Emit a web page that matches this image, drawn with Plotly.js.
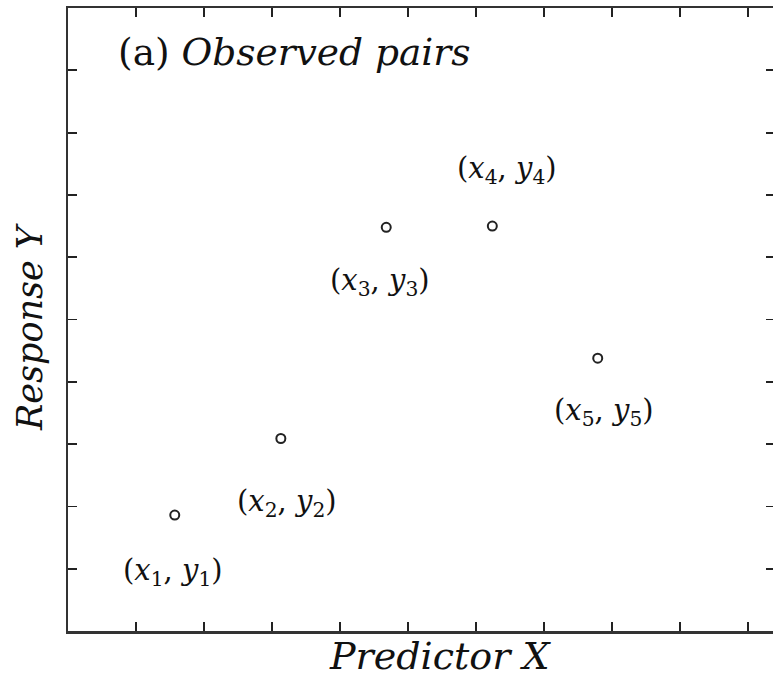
<!DOCTYPE html>
<html>
<head>
<meta charset="utf-8">
<script src="https://cdn.plot.ly/plotly-3.0.1.min.js"></script>
<style>html,body{margin:0;padding:0;overflow:hidden;background:#fff;}#chart{width:777px;height:678px;}</style>
</head>
<body>
<div id="chart"></div>
<script>
// Data
const pointX = [1.57, 3.13, 4.68, 6.24, 7.79];
const pointY = [1.86, 3.09, 6.48, 6.50, 4.38];
const pointLabels = [
  "(<i>x</i><sub>1</sub>, <i>y</i><sub>1</sub>)",
  "(<i>x</i><sub>2</sub>, <i>y</i><sub>2</sub>)",
  "(<i>x</i><sub>3</sub>, <i>y</i><sub>3</sub>)",
  "(<i>x</i><sub>4</sub>, <i>y</i><sub>4</sub>)",
  "(<i>x</i><sub>5</sub>, <i>y</i><sub>5</sub>)"
];
const xTicks = [1, 2, 3, 4, 5, 6, 7, 8, 9, 10];
const yTicks = [1, 2, 3, 4, 5, 6, 7, 8, 9];
const chartTitle = "(a) <i>Observed pairs</i>";
const xTitle = "<i>Predictor X</i>";
const yTitle = "<i>Response Y</i>";

// label offsets (pixels) relative to each point – styling only
const labelDx = [-2, 6, -6, 15, 6];
const labelDy = [57, 65, 55, -56, 54];

const serif = "DejaVu Serif";

const trace = {
  x: pointX, y: pointY, type: "scatter", mode: "markers",
  marker: {symbol: "circle-open", size: 9, color: "#222", line: {width: 2, color: "#222"}},
  hoverinfo: "x+y", showlegend: false
};

const annotations = pointX.map((x, i) => ({
  x: x, y: pointY[i], xref: "x", yref: "y", text: pointLabels[i],
  showarrow: false, xshift: labelDx[i], yshift: -labelDy[i],
  font: {family: serif, size: 29, color: "#111"}
}));
annotations.push({
  xref: "paper", yref: "paper", x: (440 - 68) / 707, y: -(656 - 631) / 623, xanchor: "center", yanchor: "middle",
  text: xTitle, showarrow: false, font: {family: serif, size: 38, color: "#111"}
});
annotations.push({
  xref: "paper", yref: "paper", x: (30 - 68) / 707, y: (631 - 327) / 623, xanchor: "center", yanchor: "middle",
  text: yTitle, textangle: -90, showarrow: false, font: {family: serif, size: 35, color: "#111"}
});

const axisCommon = {
  showgrid: false, zeroline: false, showline: true, linecolor: "#333", linewidth: 2.5,
  mirror: "ticks", ticks: "inside", ticklen: 9, tickwidth: 1.8, tickcolor: "#222",
  showticklabels: false, tickmode: "array", fixedrange: true
};

const layout = {
  width: 777, height: 678,
  margin: {l: 68, r: 2, t: 8, b: 47},
  paper_bgcolor: "#fff", plot_bgcolor: "#fff",
  font: {family: serif},
  title: {
    text: chartTitle, xref: "paper", x: (118 - 68) / 707, xanchor: "left",
    yref: "container", y: 1 - 52 / 678, yanchor: "middle",
    font: {family: serif, size: 37.5, color: "#111"}
  },
  xaxis: Object.assign({}, axisCommon, {range: [0, 707 / 68], tickvals: xTicks}),
  yaxis: Object.assign({}, axisCommon, {range: [0, 10], tickvals: yTicks}),
  annotations: annotations
};

Plotly.newPlot("chart", [trace], layout, {displayModeBar: false, staticPlot: true});
</script>
</body>
</html>
